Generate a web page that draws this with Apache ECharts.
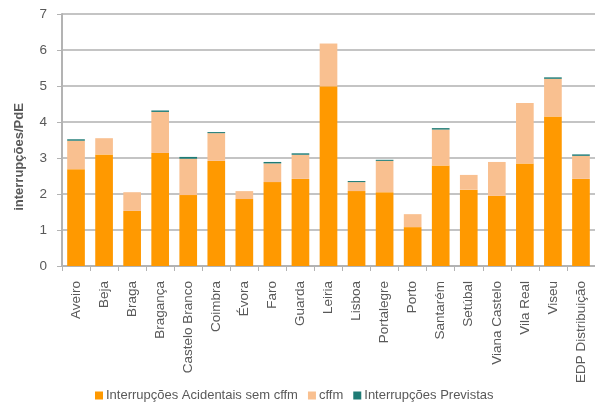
<!DOCTYPE html>
<html>
<head>
<meta charset="utf-8">
<script src="https://cdn.jsdelivr.net/npm/echarts@6/dist/echarts.min.js"></script>
<style>
html, body { margin: 0; padding: 0; background: #fff; }
#chart { width: 595px; height: 407px; }
</style>
</head>
<body>
<div id="chart"></div>
<script>
var categories = ['Aveiro', 'Beja', 'Braga', 'Bragança', 'Castelo Branco', 'Coimbra', 'Évora', 'Faro', 'Guarda',
    'Leiria', 'Lisboa', 'Portalegre', 'Porto', 'Santarém', 'Setúbal', 'Viana Castelo', 'Vila Real', 'Viseu', 'EDP Distribuição'];

// valores (interrupções/PdE)
var acidentais = [2.69, 3.10, 1.53, 3.14, 1.97, 2.92, 1.86, 2.33, 2.42, 4.99, 2.08, 2.05, 1.08, 2.79, 2.12, 1.95, 2.85, 4.15, 2.42];
var cffm = [0.79, 0.45, 0.52, 1.14, 1.01, 0.77, 0.22, 0.52, 0.67, 1.19, 0.25, 0.87, 0.36, 1.00, 0.41, 0.94, 1.68, 1.05, 0.64];
var previstas = [0.04, 0, 0, 0.04, 0.05, 0.03, 0, 0.04, 0.04, 0, 0.03, 0.03, 0, 0.04, 0, 0, 0, 0.04, 0.04];

var myChart = echarts.init(document.getElementById('chart'), null, {renderer: 'canvas'});

var txt = '#595959';
var option = {
    animation: false,
    textStyle: { fontFamily: 'Liberation Sans, Arial, sans-serif' },
    grid: { left: 62, right: 0, top: 14, bottom: 141 },
    legend: {
        bottom: 0,
        left: 90,
        itemWidth: 8,
        itemHeight: 8,
        itemGap: 10,
        icon: 'rect',
        textStyle: { color: txt, fontSize: 13, padding: [0, 0, 0, -2] },
        data: ['Interrupções Acidentais sem cffm', 'cffm', 'Interrupções Previstas']
    },
    xAxis: {
        type: 'category',
        data: categories,
        axisLine: { lineStyle: { color: '#b3b3b3', width: 2 } },
        axisTick: { show: true, length: 5, lineStyle: { color: '#b3b3b3' } },
        axisLabel: { rotate: 90, color: txt, fontSize: 13.5, margin: 15, interval: 0 }
    },
    yAxis: {
        type: 'value',
        min: 0,
        max: 7,
        interval: 1,
        name: 'interrupções/PdE',
        nameLocation: 'middle',
        nameGap: 36,
        nameTextStyle: { color: txt, fontSize: 13, fontWeight: 'bold', padding: [0, 34, 0, 0] },
        axisLine: { show: true, lineStyle: { color: '#b3b3b3', width: 2 } },
        axisTick: { show: true, length: 5, lineStyle: { color: '#b3b3b3' } },
        axisLabel: { color: txt, fontSize: 13.5, margin: 15 },
        splitLine: { lineStyle: { color: '#c4c4c4', width: 2 } }
    },
    series: [
        {
            name: 'Interrupções Acidentais sem cffm',
            type: 'bar',
            stack: 'total',
            barWidth: '63%',
            itemStyle: { color: '#FF9900' },
            data: acidentais
        },
        {
            name: 'cffm',
            type: 'bar',
            stack: 'total',
            itemStyle: { color: '#F9C090' },
            data: cffm
        },
        {
            name: 'Interrupções Previstas',
            type: 'bar',
            stack: 'total',
            itemStyle: { color: '#1E7B75' },
            data: previstas
        }
    ]
};

myChart.setOption(option);
</script>
</body>
</html>
